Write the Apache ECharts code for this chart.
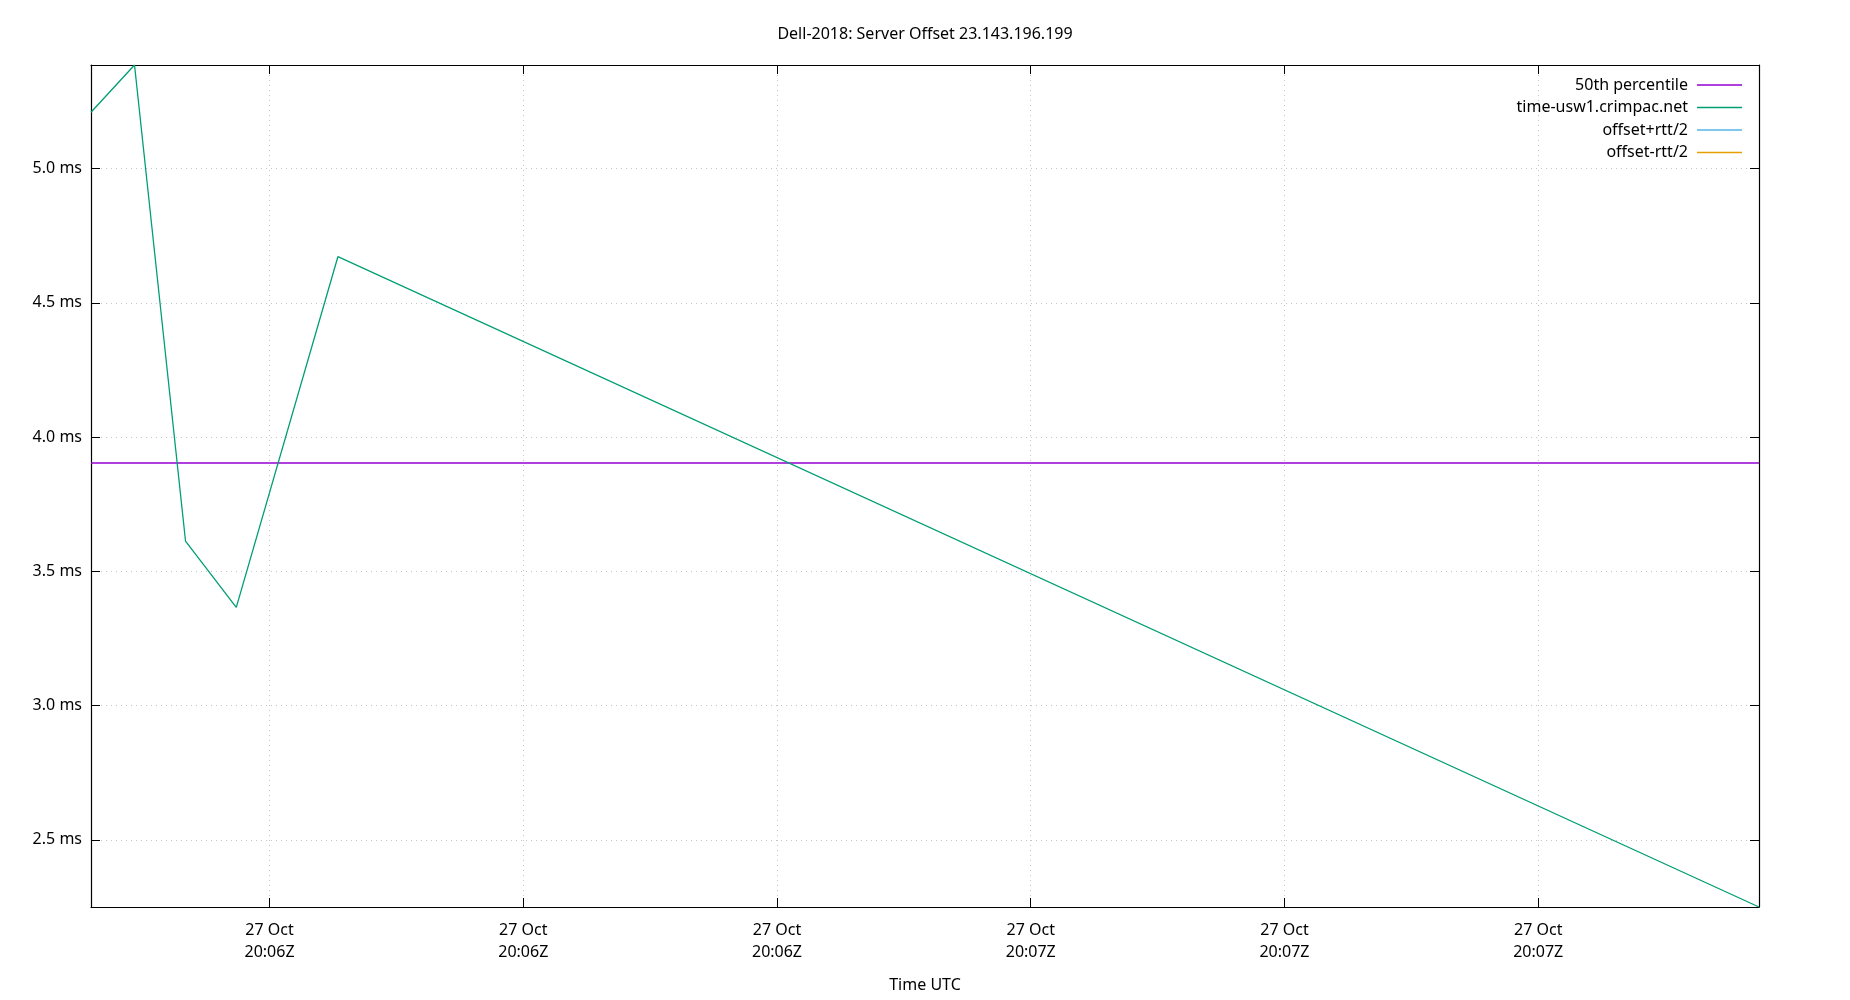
<!DOCTYPE html>
<html>
<head>
<meta charset="utf-8">
<script src="https://cdn.jsdelivr.net/npm/echarts@6/dist/echarts.min.js"></script>
<style>
html,body{margin:0;padding:0;background:#fff;}
#chart{width:1850px;height:1000px;}
</style>
</head>
<body>
<div id="chart"></div>
<script>
// ---- data ----
var titleText = 'Dell-2018: Server Offset 23.143.196.199';
var xAxisName = 'Time UTC';
var seriesNames = ['50th percentile', 'time-usw1.crimpac.net', 'offset+rtt/2', 'offset-rtt/2'];
var seriesColors = ['#9400d3', '#009e73', '#56b4e9', '#e69f00'];
var serverTimes = [
  '2018-10-27T20:05:45.93Z',
  '2018-10-27T20:05:49.36Z',
  '2018-10-27T20:05:53.38Z',
  '2018-10-27T20:05:57.38Z',
  '2018-10-27T20:06:05.39Z',
  '2018-10-27T20:07:57.40Z'
];
var serverOffsets = [5.210, 5.386, 3.613, 3.366, 4.672, 2.250];
var percentile50 = 3.904;
var xTickTimes = [
  '2018-10-27T20:06:00Z',
  '2018-10-27T20:06:20Z',
  '2018-10-27T20:06:40Z',
  '2018-10-27T20:07:00Z',
  '2018-10-27T20:07:20Z',
  '2018-10-27T20:07:40Z'
];
var yTicks = [2.5, 3.0, 3.5, 4.0, 4.5, 5.0];
var monthNames = ['Jan','Feb','Mar','Apr','May','Jun','Jul','Aug','Sep','Oct','Nov','Dec'];

// ---- build ----
var tMs = serverTimes.map(function (s) { return Date.parse(s); });
var xTicksMs = xTickTimes.map(function (s) { return Date.parse(s); });
var xMin = Math.min.apply(null, tMs), xMax = Math.max.apply(null, tMs);
var yMin = Math.min.apply(null, serverOffsets), yMax = Math.max.apply(null, serverOffsets);
function pad(n) { return (n < 10 ? '0' : '') + n; }
function fmtTime(v) {
  var d = new Date(v);
  return d.getUTCDate() + ' ' + monthNames[d.getUTCMonth()] + '\n' + pad(d.getUTCHours()) + ':' + pad(d.getUTCMinutes()) + 'Z';
}
var FONT = 'Noto Sans';
var txt = { fontFamily: FONT, fontSize: 16, color: '#000' };

var chart = echarts.init(document.getElementById('chart'), null, { renderer: 'canvas' });
chart.setOption({
  animation: false,
  backgroundColor: '#fff',
  title: {
    text: titleText, left: 'center', top: 21,
    textStyle: { fontFamily: FONT, fontSize: 16, fontWeight: 'normal', color: '#000' }
  },
  legend: {
    data: seriesNames,
    orient: 'vertical', align: 'right',
    right: 103, top: 72,
    itemWidth: 45, itemHeight: 1.5, itemGap: 6.5,
    icon: 'rect',
    textStyle: { fontFamily: FONT, fontSize: 16, color: '#000', padding: [0, 4, 0, 0] }
  },
  grid: { left: 91, right: 91, top: 65, bottom: 93, containLabel: false },
  xAxis: [{
    type: 'value', min: xMin, max: xMax,
    name: xAxisName, nameLocation: 'middle', nameGap: 70,
    nameTextStyle: txt,
    axisLine: { show: true, onZero: false, lineStyle: { color: '#000', width: 1.2 } },
    axisTick: { show: true, inside: true, length: 9, customValues: xTicksMs, lineStyle: { color: '#000' } },
    axisLabel: { show: true, customValues: xTicksMs, formatter: fmtTime, margin: 12, lineHeight: 22, fontFamily: FONT, fontSize: 16, color: '#000' },
    splitLine: { show: true, lineStyle: { color: '#c4c4c4', type: [1, 4], width: 1 } }
  }, {
    type: 'value', position: 'top', min: xMin, max: xMax,
    axisLine: { show: true, onZero: false, lineStyle: { color: '#000', width: 1.2 } },
    axisTick: { show: true, inside: true, length: 9, customValues: xTicksMs, lineStyle: { color: '#000' } },
    axisLabel: { show: false },
    splitLine: { show: false }
  }],
  yAxis: [{
    type: 'value', min: yMin, max: yMax,
    axisLine: { show: true, onZero: false, lineStyle: { color: '#000', width: 1.2 } },
    axisTick: { show: true, inside: true, length: 9, customValues: yTicks, lineStyle: { color: '#000' } },
    axisLabel: { show: true, customValues: yTicks, margin: 9, fontFamily: FONT, fontSize: 16, color: '#000',
      formatter: function (v) { return v.toFixed(1) + ' ms'; } },
    splitLine: { show: true, lineStyle: { color: '#c4c4c4', type: [1, 4], width: 1 } }
  }, {
    type: 'value', position: 'right', min: yMin, max: yMax,
    axisLine: { show: true, onZero: false, lineStyle: { color: '#000', width: 1.2 } },
    axisTick: { show: true, inside: true, length: 9, customValues: yTicks, lineStyle: { color: '#000' } },
    axisLabel: { show: false },
    splitLine: { show: false }
  }],
  series: [
    {
      name: seriesNames[0], type: 'line', symbol: 'none', color: seriesColors[0],
      lineStyle: { width: 1.5, color: seriesColors[0] },
      data: [[xMin, percentile50], [xMax, percentile50]]
    },
    {
      name: seriesNames[1], type: 'line', symbol: 'none', color: seriesColors[1],
      lineStyle: { width: 1.3, color: seriesColors[1] },
      data: tMs.map(function (t, i) { return [t, serverOffsets[i]]; })
    },
    { name: seriesNames[2], type: 'line', symbol: 'none', color: seriesColors[2], lineStyle: { width: 1.3 }, data: [] },
    { name: seriesNames[3], type: 'line', symbol: 'none', color: seriesColors[3], lineStyle: { width: 1.3 }, data: [] }
  ]
});
</script>
</body>
</html>
